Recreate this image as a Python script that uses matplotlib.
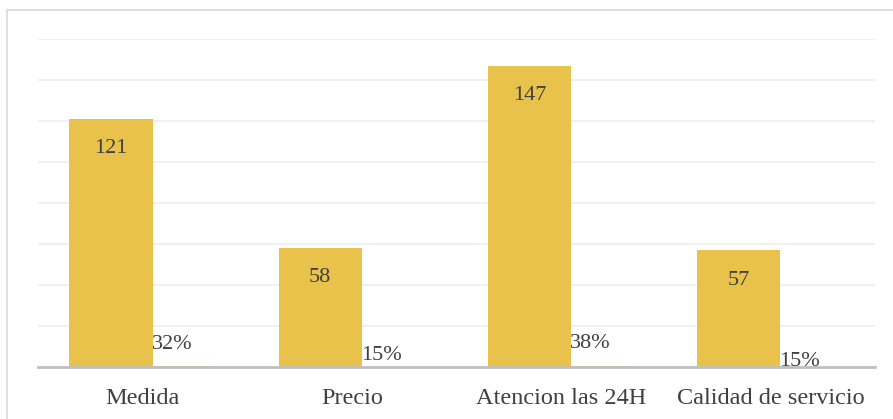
import matplotlib.pyplot as plt
from matplotlib.patches import Rectangle
import numpy as np

categories = ["Medida", "Precio", "Atencion las 24H", "Calidad de servicio"]
counts = [121, 58, 147, 57]
shares = [0.32, 0.15, 0.38, 0.15]
share_labels = ["32%", "15%", "38%", "15%"]

bar_color = "#E8C24A"
text_color = "#404040"

plt.rcParams["font.family"] = ["Liberation Serif", "DejaVu Serif"]

fig = plt.figure(figsize=(8.93, 4.19), dpi=100)
ax = fig.add_axes([38 / 893, 52 / 419, 837 / 893, 328 / 419])

# outer chart frame
fig.patches.append(Rectangle((7 / 893, -0.1), 1.2, (419 - 10) / 419 + 0.1,
                             transform=fig.transFigure, fill=False,
                             edgecolor="#D9D9D9", lw=1.2))

x = np.arange(len(categories))
offset = 0.151
width = 0.397

bars = ax.bar(x - offset, counts, width, color=bar_color, zorder=2)
ax.bar(x + offset, shares, width, color=bar_color, zorder=1)

for rect, v in zip(bars, counts):
    ax.annotate(str(v), (rect.get_x() + rect.get_width() / 2, rect.get_height()),
                xytext=(0, -21.5), textcoords="offset points",
                ha="center", va="center", fontsize=16, color=text_color)

# percent labels sit around the (tiny) second bars
pct_label_y = [11.0, 5.8, 11.7, 2.6]
for xi, lab, ly in zip(x, share_labels, pct_label_y):
    ax.text(xi + offset - 0.01, ly, lab, ha="center", va="center",
            fontsize=16, color=text_color, zorder=4)

ax.set_xlim(-0.5, len(categories) - 0.5)
ax.set_ylim(0, 160)
ax.set_yticks(np.arange(20, 161, 20))
ax.yaxis.grid(True, color="#EDEDED", lw=1.2)
ax.set_axisbelow(True)
ax.tick_params(axis="y", left=False, labelleft=False)
ax.tick_params(axis="x", length=0, pad=15, labelsize=17.5, labelcolor=text_color)
ax.set_xticks(x)
ax.set_xticklabels(categories)

for side in ["top", "right", "left"]:
    ax.spines[side].set_visible(False)
ax.spines["bottom"].set_color("#BFBFBF")
ax.spines["bottom"].set_linewidth(2)
ax.spines["bottom"].set_zorder(3)

fig.savefig("out.png", dpi=100)
